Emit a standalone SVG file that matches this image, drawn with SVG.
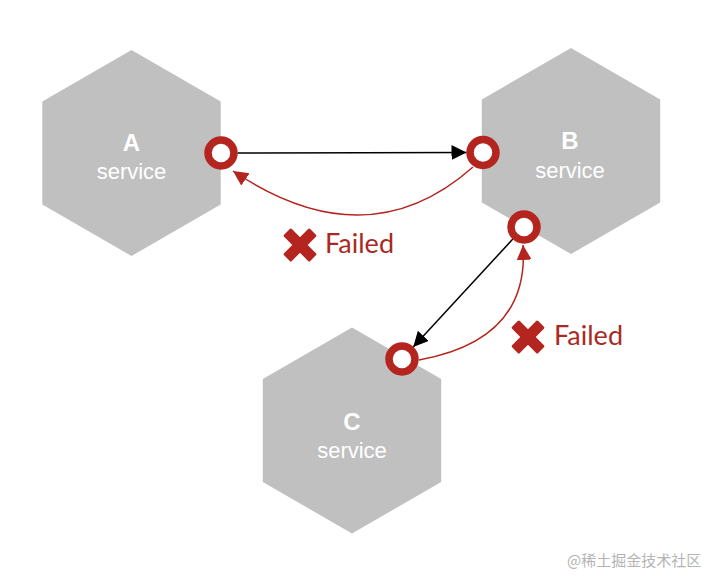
<svg xmlns="http://www.w3.org/2000/svg" width="720" height="584" viewBox="0 0 720 584">
  <style>
    .hex { fill: #c0c0c0; }
    .title { font-family: "Liberation Sans", Arial, sans-serif; font-weight: bold; font-size: 24px; fill: #ffffff; text-anchor: middle; }
    .sub { font-family: "Liberation Sans", Arial, sans-serif; font-size: 22px; fill: #ffffff; text-anchor: middle; }
    .port { fill: #ffffff; stroke: #b3251e; stroke-width: 7.5; }
    .call { fill: none; stroke: #000000; stroke-width: 1.5; }
    .fail { fill: none; stroke: #b3251e; stroke-width: 1.5; }
    .x { fill: #b3251e; }
    .failtxt { font-family: Lato, "Open Sans", sans-serif; font-size: 27px; fill: #a82a24; }
    .wm { font-family: "Noto Sans CJK SC", "Noto Sans", sans-serif; font-size: 15px; fill: #b4b4b4; }
  </style>
  <defs>
    <marker id="arrowBlack" markerUnits="userSpaceOnUse" markerWidth="16" markerHeight="16" refX="15" refY="7.5" orient="auto">
      <path d="M0,0 L15,7.5 L0,15 z" fill="#000000"/>
    </marker>
    <marker id="arrowRed" markerUnits="userSpaceOnUse" markerWidth="17" markerHeight="17" refX="15" refY="7.5" orient="auto">
      <path d="M0,0 L15,7.5 L0,15 z" fill="#b3251e"/>
    </marker>
    <g id="xicon">
      <rect x="-18.5" y="-5.5" width="37" height="11" rx="1.5" transform="rotate(45)"/>
      <rect x="-18.5" y="-5.5" width="37" height="11" rx="1.5" transform="rotate(-45)"/>
    </g>
  </defs>

  <rect width="720" height="584" fill="#ffffff"/>

  <g id="node-A">
    <polygon class="hex" points="131.5,50 220.7,101.5 220.7,204.5 131.5,256 42.3,204.5 42.3,101.5"/>
    <text class="title" x="131.5" y="151">A</text>
    <text class="sub" x="131.5" y="179">service</text>
  </g>

  <g id="node-B">
    <polygon class="hex" points="571,48 660.2,99.5 660.2,202.5 571,254 481.8,202.5 481.8,99.5"/>
    <text class="title" x="570" y="149">B</text>
    <text class="sub" x="570" y="178">service</text>
  </g>

  <g id="node-C">
    <polygon class="hex" points="352,327.5 441.2,379 441.2,482 352,533.5 262.8,482 262.8,379"/>
    <text class="title" x="352" y="430">C</text>
    <text class="sub" x="352" y="458">service</text>
  </g>

  <g id="connectors">
    <line class="call" x1="237.5" y1="153" x2="466.5" y2="152.5" marker-end="url(#arrowBlack)"/>
    <path class="fail" d="M473,167 Q367,261 233,171" marker-end="url(#arrowRed)"/>
    <line class="call" x1="512.8" y1="239.1" x2="413.2" y2="346.9" marker-end="url(#arrowBlack)"/>
    <path class="fail" d="M419,360 Q530,340 523,245" marker-end="url(#arrowRed)"/>
  </g>

  <g id="ports">
    <circle class="port" cx="221" cy="153" r="13"/>
    <circle class="port" cx="483" cy="152.5" r="13"/>
    <circle class="port" cx="524" cy="227" r="13"/>
    <circle class="port" cx="402" cy="359" r="13"/>
  </g>

  <g id="label-failed-1">
    <use href="#xicon" class="x" x="300" y="245"/>
    <text class="failtxt" x="325" y="253">Failed</text>
  </g>
  <g id="label-failed-2">
    <use href="#xicon" class="x" x="528" y="337"/>
    <text class="failtxt" x="554" y="345">Failed</text>
  </g>

  <text class="wm" x="567" y="566">@稀土掘金技术社区</text>
</svg>
